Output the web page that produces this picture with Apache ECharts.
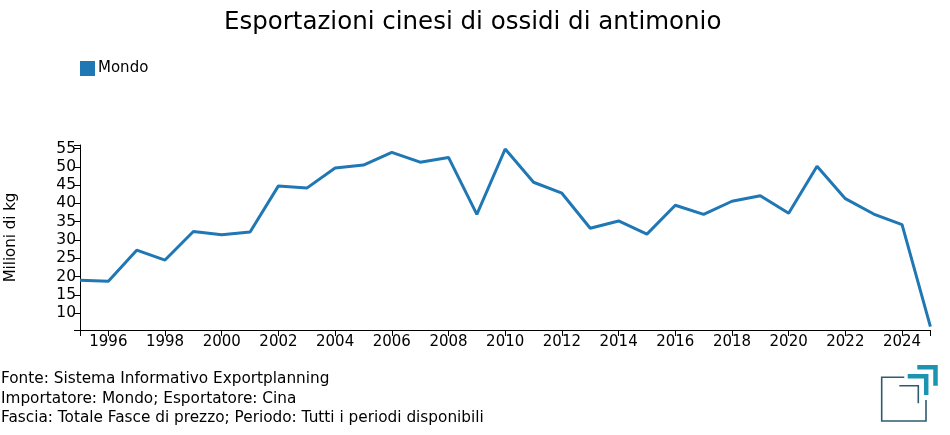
<!DOCTYPE html>
<html>
<head>
<meta charset="utf-8">
<script src="https://cdn.jsdelivr.net/npm/echarts@6/dist/echarts.min.js"></script>
<style>html,body{margin:0;padding:0;background:#fff}#c{width:950px;height:435px}</style>
</head>
<body>
<div id="c"></div>
<script>
const years = [1995,1996,1997,1998,1999,2000,2001,2002,2003,2004,2005,2006,2007,2008,2009,2010,2011,2012,2013,2014,2015,2016,2017,2018,2019,2020,2021,2022,2023,2024,2025];
const mondo = [19.0,18.7,27.2,24.5,32.3,31.4,32.2,44.8,44.2,49.7,50.5,54.0,51.3,52.6,37.0,54.9,45.8,42.8,33.2,35.2,31.6,39.5,37.0,40.6,42.1,37.3,50.2,41.3,37.1,34.2,6.25];
const xTickLabels = [1996,1998,2000,2002,2004,2006,2008,2010,2012,2014,2016,2018,2020,2022,2024];
const yTickLabels = [10,15,20,25,30,35,40,45,50,55];
const yMin = 5.35, yMax = 56;
const seriesName = 'Mondo';
const title = 'Esportazioni cinesi di ossidi di antimonio';
const yName = 'Milioni di kg';
const footer = ['Fonte: Sistema Informativo Exportplanning','Importatore: Mondo; Esportatore: Cina','Fascia: Totale Fasce di prezzo; Periodo: Tutti i periodi disponibili'];

const FONT = 'DejaVu Sans';
const chart = echarts.init(document.getElementById('c'), null, {renderer:'canvas'});
const dark = '#2f5b6e', teal = '#1b94b1';
chart.setOption({
  animation:false,
  textStyle:{fontFamily:FONT},
  title:{text:title,left:219,top:5,textStyle:{fontFamily:FONT,fontSize:24.5,fontWeight:'normal',color:'#000'}},
  legend:{data:[seriesName],left:75,top:56,itemWidth:15,itemHeight:15,itemGap:5,icon:'rect',
    textStyle:{fontFamily:FONT,fontSize:15,color:'#000',padding:[0,0,0,-2]}},
  grid:{left:80,right:19.6,top:145,bottom:105,containLabel:false,outerBoundsMode:'none'},
  xAxis:{type:'value',min:1995,max:2025,
    axisLine:{lineStyle:{color:'#000',width:1}},
    axisTick:{length:6,lineStyle:{color:'#000'},customValues:[1995].concat(xTickLabels).concat([2025])},
    axisLabel:{customValues:xTickLabels,formatter:v=>String(v),fontFamily:FONT,fontSize:15,color:'#000',margin:5},
    splitLine:{show:false}},
  yAxis:{type:'value',min:yMin,max:yMax,name:yName,nameLocation:'middle',nameGap:61,
    nameTextStyle:{fontFamily:FONT,fontSize:15,color:'#000'},
    axisLine:{show:true,lineStyle:{color:'#000',width:1}},
    axisTick:{show:true,length:6,lineStyle:{color:'#000'},customValues:[yMin].concat(yTickLabels).concat([yMax])},
    axisLabel:{customValues:yTickLabels,formatter:v=>String(v),fontFamily:FONT,fontSize:15.5,color:'#000',margin:4},
    splitLine:{show:false}},
  series:[{name:seriesName,type:'line',data:years.map((y,i)=>[y,mondo[i]]),
    showSymbol:false,symbol:'none',lineStyle:{color:'#1f77b4',width:3},itemStyle:{color:'#1f77b4'}}],
  graphic:[
    ...footer.map((t,i)=>({type:'text',left:1,top:372+i*19.5,style:{text:t,fontFamily:FONT,fontSize:15.3,fill:'#000'}})),
    {type:'polyline',shape:{points:[[904.3,377.3],[881.7,377.3],[881.7,421],[926,421],[926,400]]},style:{stroke:dark,lineWidth:1.6,fill:null}},
    {type:'polyline',shape:{points:[[899.3,385.7],[918.3,385.7],[918.3,403.3]]},style:{stroke:dark,lineWidth:1.6,fill:null}},
    {type:'polyline',shape:{points:[[907.7,376.2],[926.2,376.2],[926.2,395]]},style:{stroke:teal,lineWidth:4.5,fill:null,lineJoin:'miter'}},
    {type:'polyline',shape:{points:[[917.3,367.3],[935.5,367.3],[935.5,385.7]]},style:{stroke:teal,lineWidth:4.5,fill:null,lineJoin:'miter'}}
  ]
});
</script>
</body>
</html>
